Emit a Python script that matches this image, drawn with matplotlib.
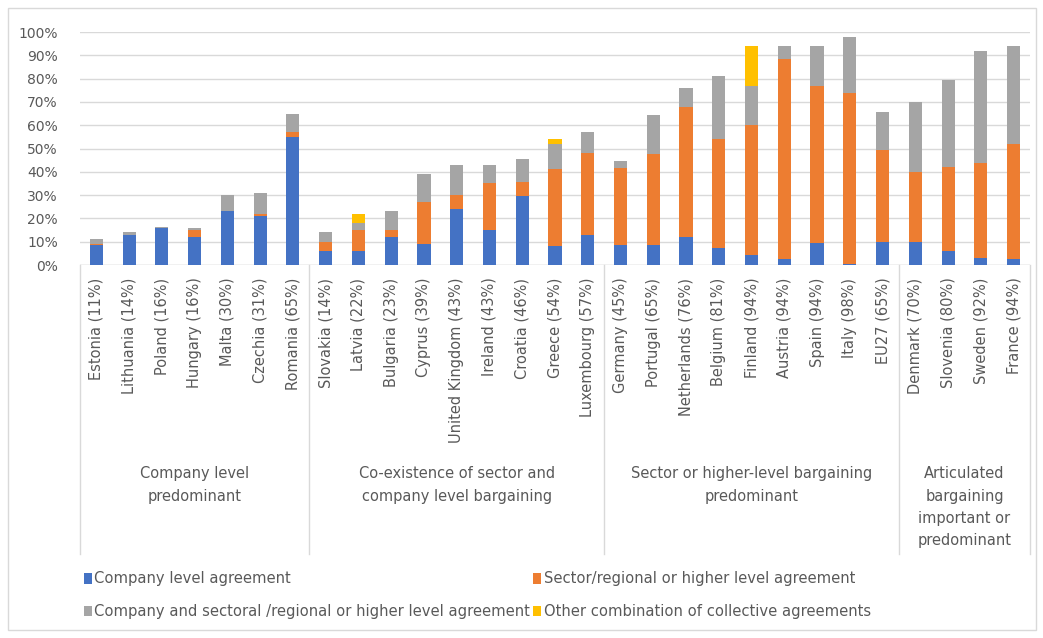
import numpy as np
import matplotlib.pyplot as plt
from matplotlib.patches import Rectangle

# Countries with overall coverage, grouped by bargaining regime
countries = ['Estonia (11%)', 'Lithuania (14%)', 'Poland (16%)', 'Hungary (16%)',
             'Malta (30%)', 'Czechia (31%)', 'Romania (65%)',
             'Slovakia (14%)', 'Latvia (22%)', 'Bulgaria (23%)', 'Cyprus (39%)',
             'United Kingdom (43%)', 'Ireland (43%)', 'Croatia (46%)', 'Greece (54%)',
             'Luxembourg (57%)',
             'Germany (45%)', 'Portugal (65%)', 'Netherlands (76%)', 'Belgium (81%)',
             'Finland (94%)', 'Austria (94%)', 'Spain (94%)', 'Italy (98%)', 'EU27 (65%)',
             'Denmark (70%)', 'Slovenia (80%)', 'Sweden (92%)', 'France (94%)']

company = [8.5, 13, 16, 12, 23, 21, 55,
           6, 6, 12, 9, 24, 15, 29.5, 8, 13,
           8.5, 8.5, 12, 7.5, 4.5, 2.5, 9.5, 0.3, 10,
           10, 6, 3, 2.5]
sector = [0.5, 0, 0, 3, 0, 1, 2,
          4, 9, 3, 18, 6, 20, 6, 33, 35,
          33, 39, 56, 46.5, 55.5, 86, 67.5, 73.5, 39.5,
          30, 36, 41, 49.5]
both = [2, 1, 0.5, 1, 7, 9, 8,
        4, 3, 8, 12, 13, 8, 10, 11, 9,
        3, 17, 8, 27, 17, 5.5, 17, 24, 16,
        30, 37.5, 48, 42]
other = [0, 0, 0, 0, 0, 0, 0,
         0, 4, 0, 0, 0, 0, 0, 2, 0,
         0, 0, 0, 0, 17, 0, 0, 0, 0,
         0, 0, 0, 0]

groups = ['Company level\npredominant',
          'Co-existence of sector and\ncompany level bargaining',
          'Sector or higher-level bargaining\npredominant',
          'Articulated\nbargaining\nimportant or\npredominant']
group_sizes = [7, 9, 9, 4]

series_names = ['Company level agreement',
                'Company and sectoral /regional or higher level agreement',
                'Sector/regional or higher level agreement',
                'Other combination of collective agreements']
colors = {'company': '#4472C4', 'sector': '#ED7D31', 'both': '#A5A5A5', 'other': '#FFC000'}

txt = '#595959'
fig = plt.figure(figsize=(10.43, 6.38), dpi=100)
ax = fig.add_axes([0.0767, 0.5846, 0.9108, 0.3652])

x = np.arange(len(countries))
w = 0.4
company = np.array(company)
sector = np.array(sector)
both = np.array(both)
other = np.array(other)

b1 = ax.bar(x, company, w, color=colors['company'], zorder=3)
b2 = ax.bar(x, sector, w, bottom=company, color=colors['sector'], zorder=3)
b3 = ax.bar(x, both, w, bottom=company + sector, color=colors['both'], zorder=3)
b4 = ax.bar(x, other, w, bottom=company + sector + both, color=colors['other'], zorder=3)

ax.set_xlim(-0.5, len(countries) - 0.5)
ax.set_ylim(0, 100)
ax.set_yticks(np.arange(0, 101, 10))
ax.set_yticklabels([f'{v}%' for v in range(0, 101, 10)])
ax.yaxis.grid(True, color='#D9D9D9', lw=1, zorder=0)
for s in ax.spines.values():
    s.set_visible(False)
ax.tick_params(axis='y', length=0, labelsize=10, colors=txt, pad=16)
ax.set_xticks(x)
ax.set_xticklabels(countries, rotation=90, fontsize=10.5, color=txt, va='top')
ax.tick_params(axis='x', length=0, pad=9)
ax.axhline(0, color='#D9D9D9', lw=1, zorder=2)

# group separators and labels below the axis
trans = ax.get_xaxis_transform()
edges = np.concatenate([[0], np.cumsum(group_sizes)]) - 0.5
for e in edges:
    ax.plot([e, e], [0, -1.24], transform=trans, color='#D9D9D9', lw=1, clip_on=False)
for i, g in enumerate(groups):
    mid = (edges[i] + edges[i + 1]) / 2
    ax.text(mid, -0.863, g, transform=trans, ha='center', va='top',
            fontsize=10.5, color=txt, linespacing=1.62)

fig.legend([b1, b3, b2, b4], series_names, ncol=2, loc='upper left',
           bbox_to_anchor=(0.068, 0.125), frameon=False, fontsize=10.6,
           labelcolor=txt, handlelength=0.55, handleheight=0.75,
           handletextpad=0.15, columnspacing=0.2, labelspacing=1.2)

fig.patches.append(Rectangle((0.008, 0.012), 0.985, 0.975, transform=fig.transFigure,
                             fill=False, edgecolor='#D9D9D9', lw=1))

fig.savefig('out.png', dpi=100)
